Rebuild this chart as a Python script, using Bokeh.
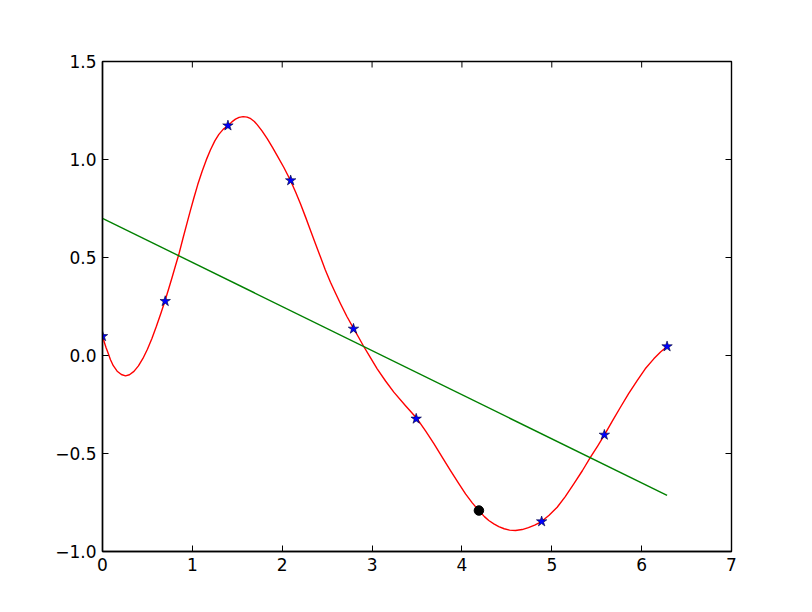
import math
from bokeh.plotting import figure
from bokeh.models import FixedTicker, LinearAxis, Range1d
from bokeh.embed import file_html
from bokeh.resources import INLINE

# Sample points (stars)
star_x = [0.000, 0.698, 1.396, 2.094, 2.793, 3.491, 4.887, 5.585, 6.283]
star_y = [0.098, 0.277, 1.173, 0.893, 0.136, -0.323, -0.847, -0.405, 0.046]

# Highlighted point (black dot)
dot_x = [4.189]
dot_y = [-0.791]

# Smooth red curve
curve_x = [0.000, 0.020, 0.040, 0.060, 0.089, 0.120, 0.163, 0.210, 0.256, 0.300,
           0.350, 0.400, 0.450, 0.500, 0.550, 0.600, 0.650, 0.694, 0.735, 0.775,
           0.812, 0.849, 0.895, 0.942, 0.980, 1.016, 1.060, 1.109, 1.155, 1.202,
           1.250, 1.295, 1.345, 1.399, 1.440, 1.480, 1.520, 1.565, 1.610, 1.650,
           1.690, 1.721, 1.775, 1.833, 1.890, 1.944, 2.020, 2.092, 2.150, 2.203,
           2.260, 2.315, 2.370, 2.426, 2.480, 2.537, 2.595, 2.649, 2.720, 2.797,
           2.850, 2.901, 2.980, 3.057, 3.150, 3.242, 3.370, 3.502, 3.595, 3.688,
           3.780, 3.873, 3.960, 4.040, 4.115, 4.188, 4.250, 4.299, 4.355, 4.410,
           4.470, 4.530, 4.596, 4.670, 4.740, 4.810, 4.885, 4.970, 5.060, 5.150,
           5.245, 5.340, 5.431, 5.510, 5.586, 5.675, 5.764, 5.855, 5.950, 6.040,
           6.135, 6.210, 6.283]
curve_y = [0.098, 0.068, 0.040, 0.015, -0.022, -0.052, -0.080, -0.097, -0.104, -0.098,
           -0.081, -0.053, -0.015, 0.032, 0.087, 0.149, 0.216, 0.277, 0.338, 0.399,
           0.458, 0.515, 0.597, 0.678, 0.743, 0.802, 0.872, 0.940, 0.998, 1.050,
           1.095, 1.128, 1.155, 1.173, 1.192, 1.206, 1.215, 1.219, 1.216, 1.208,
           1.194, 1.178, 1.146, 1.106, 1.063, 1.020, 0.958, 0.893, 0.833, 0.774,
           0.706, 0.638, 0.570, 0.502, 0.436, 0.374, 0.316, 0.264, 0.199, 0.136,
           0.093, 0.051, -0.010, -0.068, -0.130, -0.187, -0.255, -0.323, -0.385, -0.450,
           -0.518, -0.587, -0.650, -0.706, -0.752, -0.791, -0.822, -0.842, -0.859, -0.873,
           -0.884, -0.891, -0.893, -0.888, -0.878, -0.865, -0.847, -0.815, -0.774, -0.720,
           -0.655, -0.588, -0.519, -0.462, -0.405, -0.334, -0.264, -0.195, -0.128, -0.068,
           -0.017, 0.018, 0.046]

# Green fitted line
fit_x = [0.000, 6.283]
fit_y = [0.700, -0.714]

x_ticks = [0, 1, 2, 3, 4, 5, 6, 7]
y_ticks = [-1.0, -0.5, 0.0, 0.5, 1.0, 1.5]
x_labels = ["0", "1", "2", "3", "4", "5", "6", "7"]
y_labels = ["\u22121.0", "\u22120.5", "0.0", "0.5", "1.0", "1.5"]

X0, X1 = 0, 7
Y0, Y1 = -1.0, 1.5

p = figure(frame_width=629, frame_height=490,
           x_range=Range1d(X0, X1), y_range=Range1d(Y0, Y1),
           output_backend="svg", toolbar_location=None,
           min_border_left=102, min_border_top=61,
           min_border_right=69, min_border_bottom=49,
           x_axis_location=None, y_axis_location=None)
p.background_fill_color = "white"
p.border_fill_color = "white"
p.outline_line_color = "black"
p.outline_line_width = 1.4
p.xgrid.visible = False
p.ygrid.visible = False

FONT = "DejaVu Sans"

def style_axis(ax, ticks, labels):
    ax.ticker = FixedTicker(ticks=ticks)
    ax.major_label_overrides = {t: l for t, l in zip(ticks, labels)}
    ax.axis_line_color = "black"
    ax.axis_line_width = 1.4
    ax.major_tick_in = 6
    ax.major_tick_out = 0
    ax.major_tick_line_color = "black"
    ax.major_tick_line_width = 1.0
    ax.minor_tick_line_color = None
    ax.major_label_text_font = FONT
    ax.major_label_text_color = "black"
    ax.major_label_text_font_size = "17px"
    ax.major_label_standoff = 6

bottom = LinearAxis()
style_axis(bottom, x_ticks, x_labels)
p.add_layout(bottom, "below")
left = LinearAxis()
style_axis(left, y_ticks, y_labels)
p.add_layout(left, "left")

# inward ticks on top and right edges (no labels)
p.ray(x=x_ticks, y=[Y1] * len(x_ticks), length=6, length_units="screen",
      angle=-math.pi / 2, line_color="black", line_width=1.0)
p.ray(x=[X1] * len(y_ticks), y=y_ticks, length=6, length_units="screen",
      angle=math.pi, line_color="black", line_width=1.0)

p.line(curve_x, curve_y, line_color="#ff0000", line_width=1.4, line_join="round")
p.line(fit_x, fit_y, line_color="#008000", line_width=1.4)
p.scatter(star_x, star_y, marker="star", size=11, fill_color="#0000ff",
          line_color="#000033", line_width=0.6)
p.scatter(dot_x, dot_y, marker="circle", size=9.5, fill_color="black", line_color="black")

open("out.html", "w").write(file_html(p, INLINE))
